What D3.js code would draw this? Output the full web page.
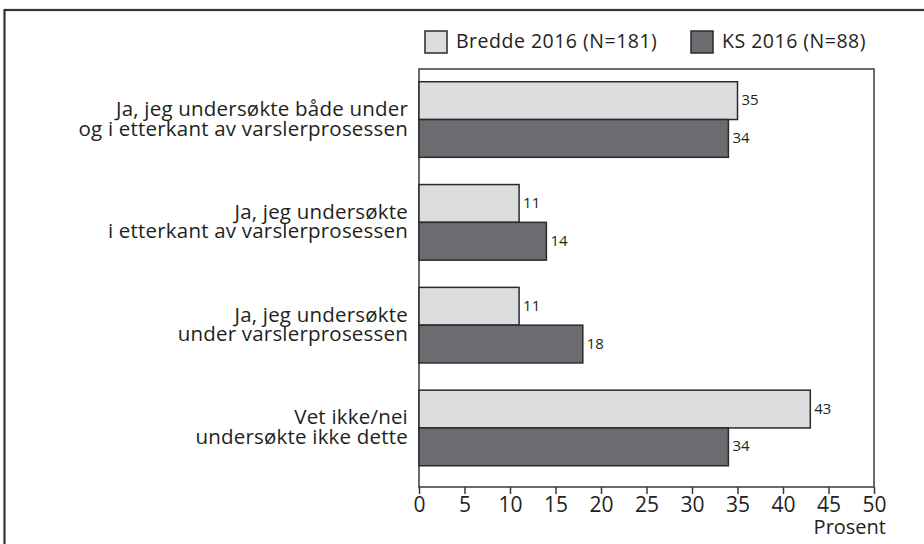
<!DOCTYPE html>
<html>
<head>
<meta charset="utf-8">
<script src="https://cdn.jsdelivr.net/npm/d3@7"></script>
<style>
  body { margin: 0; background: #fff; }
  text { font-family: "Open Sans", "Noto Sans", sans-serif; fill: #231f20; }
</style>
</head>
<body>
<svg id="chart" width="924" height="544"></svg>
<script>
//////////////////////////////////////////////////////////////
/////////////////////// Data /////////////////////////////////
//////////////////////////////////////////////////////////////

var categories = [
	["Ja, jeg undersøkte både under", "og i etterkant av varslerprosessen"],
	["Ja, jeg undersøkte", "i etterkant av varslerprosessen"],
	["Ja, jeg undersøkte", "under varslerprosessen"],
	["Vet ikke/nei", "undersøkte ikke dette"]
];
var seriesNames = ["Bredde 2016 (N=181)", "KS 2016 (N=88)"];
var bredde = [35, 11, 11, 43];
var ks = [34, 14, 18, 34];
var xTicks = [0, 5, 10, 15, 20, 25, 30, 35, 40, 45, 50];
var xLabel = "Prosent";

var colors = ["#dcdddf", "#6b6c70"];

//////////////////////////////////////////////////////////////
/////////////////////// Layout ///////////////////////////////
//////////////////////////////////////////////////////////////

var plotLeft = 419, plotRight = 874,
	plotTop = 69, plotBottom = 487;

var svg = d3.select("#chart");

//Outer frame, runs off the right and bottom edge of the picture
svg.append("rect")
	.attr("x", 4.5).attr("y", 10)
	.attr("width", 940).attr("height", 560)
	.style("fill", "none")
	.style("stroke", "#333")
	.style("stroke-width", 2.2);

var x = d3.scaleLinear().domain([0, 50]).range([plotLeft, plotRight]);

var y = d3.scaleBand()
	.domain(d3.range(categories.length))
	.range([plotTop, plotBottom - 8.5])
	.paddingInner(0.265)
	.paddingOuter(0.124);

var ySub = d3.scaleBand().domain([0, 1]).range([0, y.bandwidth()]);

//Plot box
svg.append("rect")
	.attr("x", plotLeft).attr("y", plotTop)
	.attr("width", plotRight - plotLeft).attr("height", plotBottom - plotTop)
	.style("fill", "none")
	.style("stroke", "#3a3a3a")
	.style("stroke-width", 1.5);

//Bars per category
var groups = svg.selectAll(".group")
	.data(categories)
	.enter().append("g")
	.attr("class", "group")
	.attr("transform", function(d, i) { return "translate(0," + y(i) + ")"; });

groups.each(function(d, i) {
	var g = d3.select(this);
	var vals = [bredde[i], ks[i]];
	vals.forEach(function(v, s) {
		g.append("rect")
			.attr("x", x(0))
			.attr("y", ySub(s))
			.attr("width", x(v) - x(0))
			.attr("height", ySub.bandwidth())
			.style("fill", colors[s])
			.style("stroke", "#2a2a2a")
			.style("stroke-width", 1.5);
		g.append("text")
			.attr("x", x(v) + 4)
			.attr("y", ySub(s) + ySub.bandwidth() / 2)
			.attr("dy", "0.3em")
			.style("font-size", "15px")
			.text(v);
	});
	//Category label, two lines
	var mid = y.bandwidth() / 2;
	g.append("text")
		.style("text-anchor", "end")
		.style("font-size", "20.5px")
		.style("letter-spacing", "0.2px")
		.selectAll("tspan")
		.data(d)
		.enter().append("tspan")
		.attr("x", 408)
		.attr("y", function(t, j) { return j === 0 ? mid - 3.5 : mid + 16; })
		.text(function(t) { return t; });
});

//X axis
var xAxis = d3.axisBottom(x).tickValues(xTicks).tickSize(7).tickPadding(3);
var axisG = svg.append("g")
	.attr("transform", "translate(0," + plotBottom + ")")
	.call(xAxis);
axisG.select(".domain").remove();
axisG.selectAll(".tick line").style("stroke", "#3a3a3a").style("stroke-width", 1.5);
axisG.selectAll(".tick text")
	.style("font-family", "'Open Sans', 'Noto Sans', sans-serif")
	.style("font-size", "21px")
	.style("fill", "#231f20");

svg.append("text")
	.attr("x", 886)
	.attr("y", 534)
	.style("text-anchor", "end")
	.style("font-size", "20px")
	.text(xLabel);

//Legend
var legendX = [425, 691];
var legend = svg.selectAll(".legend")
	.data(seriesNames)
	.enter().append("g")
	.attr("class", "legend")
	.attr("transform", function(d, i) { return "translate(" + legendX[i] + ",31)"; });
legend.append("rect")
	.attr("width", 22).attr("height", 22)
	.style("fill", function(d, i) { return colors[i]; })
	.style("stroke", "#2a2a2a")
	.style("stroke-width", 1.5);
legend.append("text")
	.attr("x", 31)
	.attr("y", 17)
	.style("font-size", "19.5px")
	.style("letter-spacing", "0.5px")
	.text(function(d) { return d; });
</script>
</body>
</html>
